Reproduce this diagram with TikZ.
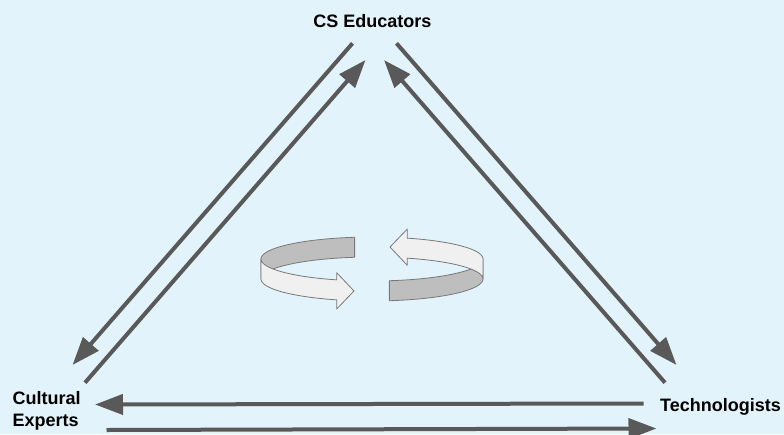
\documentclass[tikz,border=0pt]{standalone}
\usepackage{fontspec}
\setmainfont{Liberation Sans}
\usetikzlibrary{arrows.meta}

\definecolor{paper}{RGB}{226,243,252}
\definecolor{linkgray}{RGB}{89,89,89}
\definecolor{bandedge}{RGB}{120,120,120}
\definecolor{bandlight}{RGB}{240,240,240}
\definecolor{banddark}{RGB}{190,190,190}

\tikzset{
  role/.style={font=\bfseries\fontsize{18}{22.7}\selectfont, inner sep=0pt, text=black},
  link/.style={draw=linkgray, line width=4pt, -{Triangle[length=28pt,width=20pt]}},
  bandback/.style={fill=banddark, draw=bandedge, line width=0.8pt, line join=round},
  bandfront/.style={fill=bandlight, draw=bandedge, line width=0.8pt, line join=round},
  % one half of the rotating ribbon: shaded inner strip behind, light strip in front ending in a head
  turnband/.pic={
    \path[bandback]
      plot[domain=261:180, samples=40, variable=\t] ({111*cos(\t)},{-10+22*sin(\t)})
      -- plot[domain=180:261, samples=40, variable=\t] ({111*cos(\t)},{10+22*sin(\t)})
      -- cycle;
    \path[bandfront]
      plot[domain=180:108.5, samples=40, variable=\t] ({111*cos(\t)},{-10+22*sin(\t)})
      -- (-35.3,3.7) -- (-18,22) -- (-35.3,40)
      -- plot[domain=108.5:180, samples=40, variable=\t] ({111*cos(\t)},{10+22*sin(\t)})
      -- cycle;
  }
}

\begin{document}
\begin{tikzpicture}[x=1pt, y=-1pt]
  \useasboundingbox[fill=paper] (0,0) rectangle (784,434);

  % labels
  \node[role, anchor=base] (edu) at (372.5,27.7) {CS Educators};
  \node[role, anchor=north west, align=left] (cult) at (12.5,391) {Cultural\\Experts};
  \node[role, anchor=base west] (tech) at (660,411) {Technologists};

  % connector end points
  \coordinate (eduL1) at (352.5,43.3);
  \coordinate (culT1) at (72.5,365);
  \coordinate (culT2) at (85,382.7);
  \coordinate (eduL2) at (365.5,60);
  \coordinate (tecT1) at (665,382.7);
  \coordinate (eduR1) at (384,60);
  \coordinate (eduR2) at (396.5,43.3);
  \coordinate (tecT2) at (676.5,365);
  \coordinate (tecL1) at (643.5,403.5);
  \coordinate (culR1) at (95,404.5);
  \coordinate (culR2) at (106.5,430);
  \coordinate (tecL2) at (656.5,428.5);

  % links between the three groups
  \draw[link] (eduL1) -- (culT1);
  \draw[link] (culT2) -- (eduL2);
  \draw[link] (tecT1) -- (eduR1);
  \draw[link] (eduR2) -- (tecT2);
  \draw[link] (tecL1) -- (culR1);
  \draw[link] (culR2) -- (tecL2);

  % circular cycle symbol in the middle
  \pic at (372,269) {turnband};
  \pic[rotate=180] at (372,269) {turnband};
\end{tikzpicture}
\end{document}
